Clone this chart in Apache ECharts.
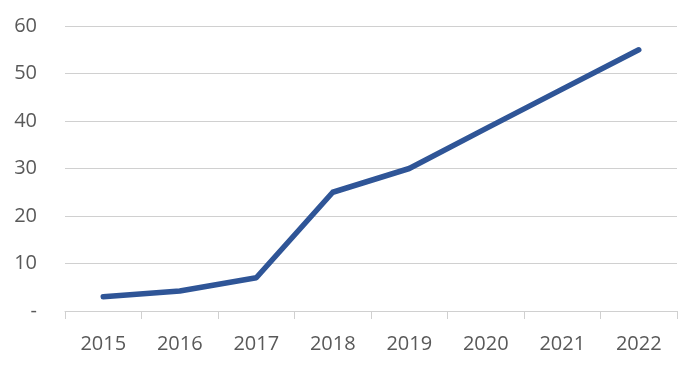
<!DOCTYPE html>
<html><head><meta charset="utf-8">
<script src="https://cdn.jsdelivr.net/npm/echarts@6/dist/echarts.min.js"></script>
<style>html,body{margin:0;padding:0;background:#fff}#c{width:687px;height:369px}</style>
</head><body><div id="c"></div>
<script>
const categories = ['2015','2016','2017','2018','2019','2020','2021','2022'];
const values = [3, 4.2, 7, 25, 30, 38.4, 46.7, 55];
const yTicks = [0, 10, 20, 30, 40, 50, 60];

const chart = echarts.init(document.getElementById('c'), null, {renderer:'canvas'});
chart.setOption({
  animation: false,
  grid: {left: 65, right: 10, top: 26, bottom: 58, containLabel: false},
  xAxis: {
    type: 'category', data: categories, boundaryGap: true,
    axisLine: {lineStyle: {color: '#d0d0d0', width: 1}},
    axisTick: {show: true, length: 8, lineStyle: {color: '#d0d0d0'}},
    axisLabel: {color: '#595959', fontFamily: 'Open Sans', fontSize: 20, margin: 23}
  },
  yAxis: {
    type: 'value', min: 0, max: 60, interval: 10,
    axisLine: {show: false}, axisTick: {show: false},
    splitLine: {lineStyle: {color: '#d0d0d0', width: 1}},
    axisLabel: {color: '#595959', fontFamily: 'Open Sans', fontSize: 20, margin: 28,
      formatter: v => yTicks.includes(v) ? (v === 0 ? '-' : String(v)) : ''}
  },
  series: [{
    type: 'line', data: values, symbol: 'none',
    lineStyle: {color: '#2f5597', width: 5.5, cap: 'round', join: 'round'}
  }]
});
</script></body></html>
